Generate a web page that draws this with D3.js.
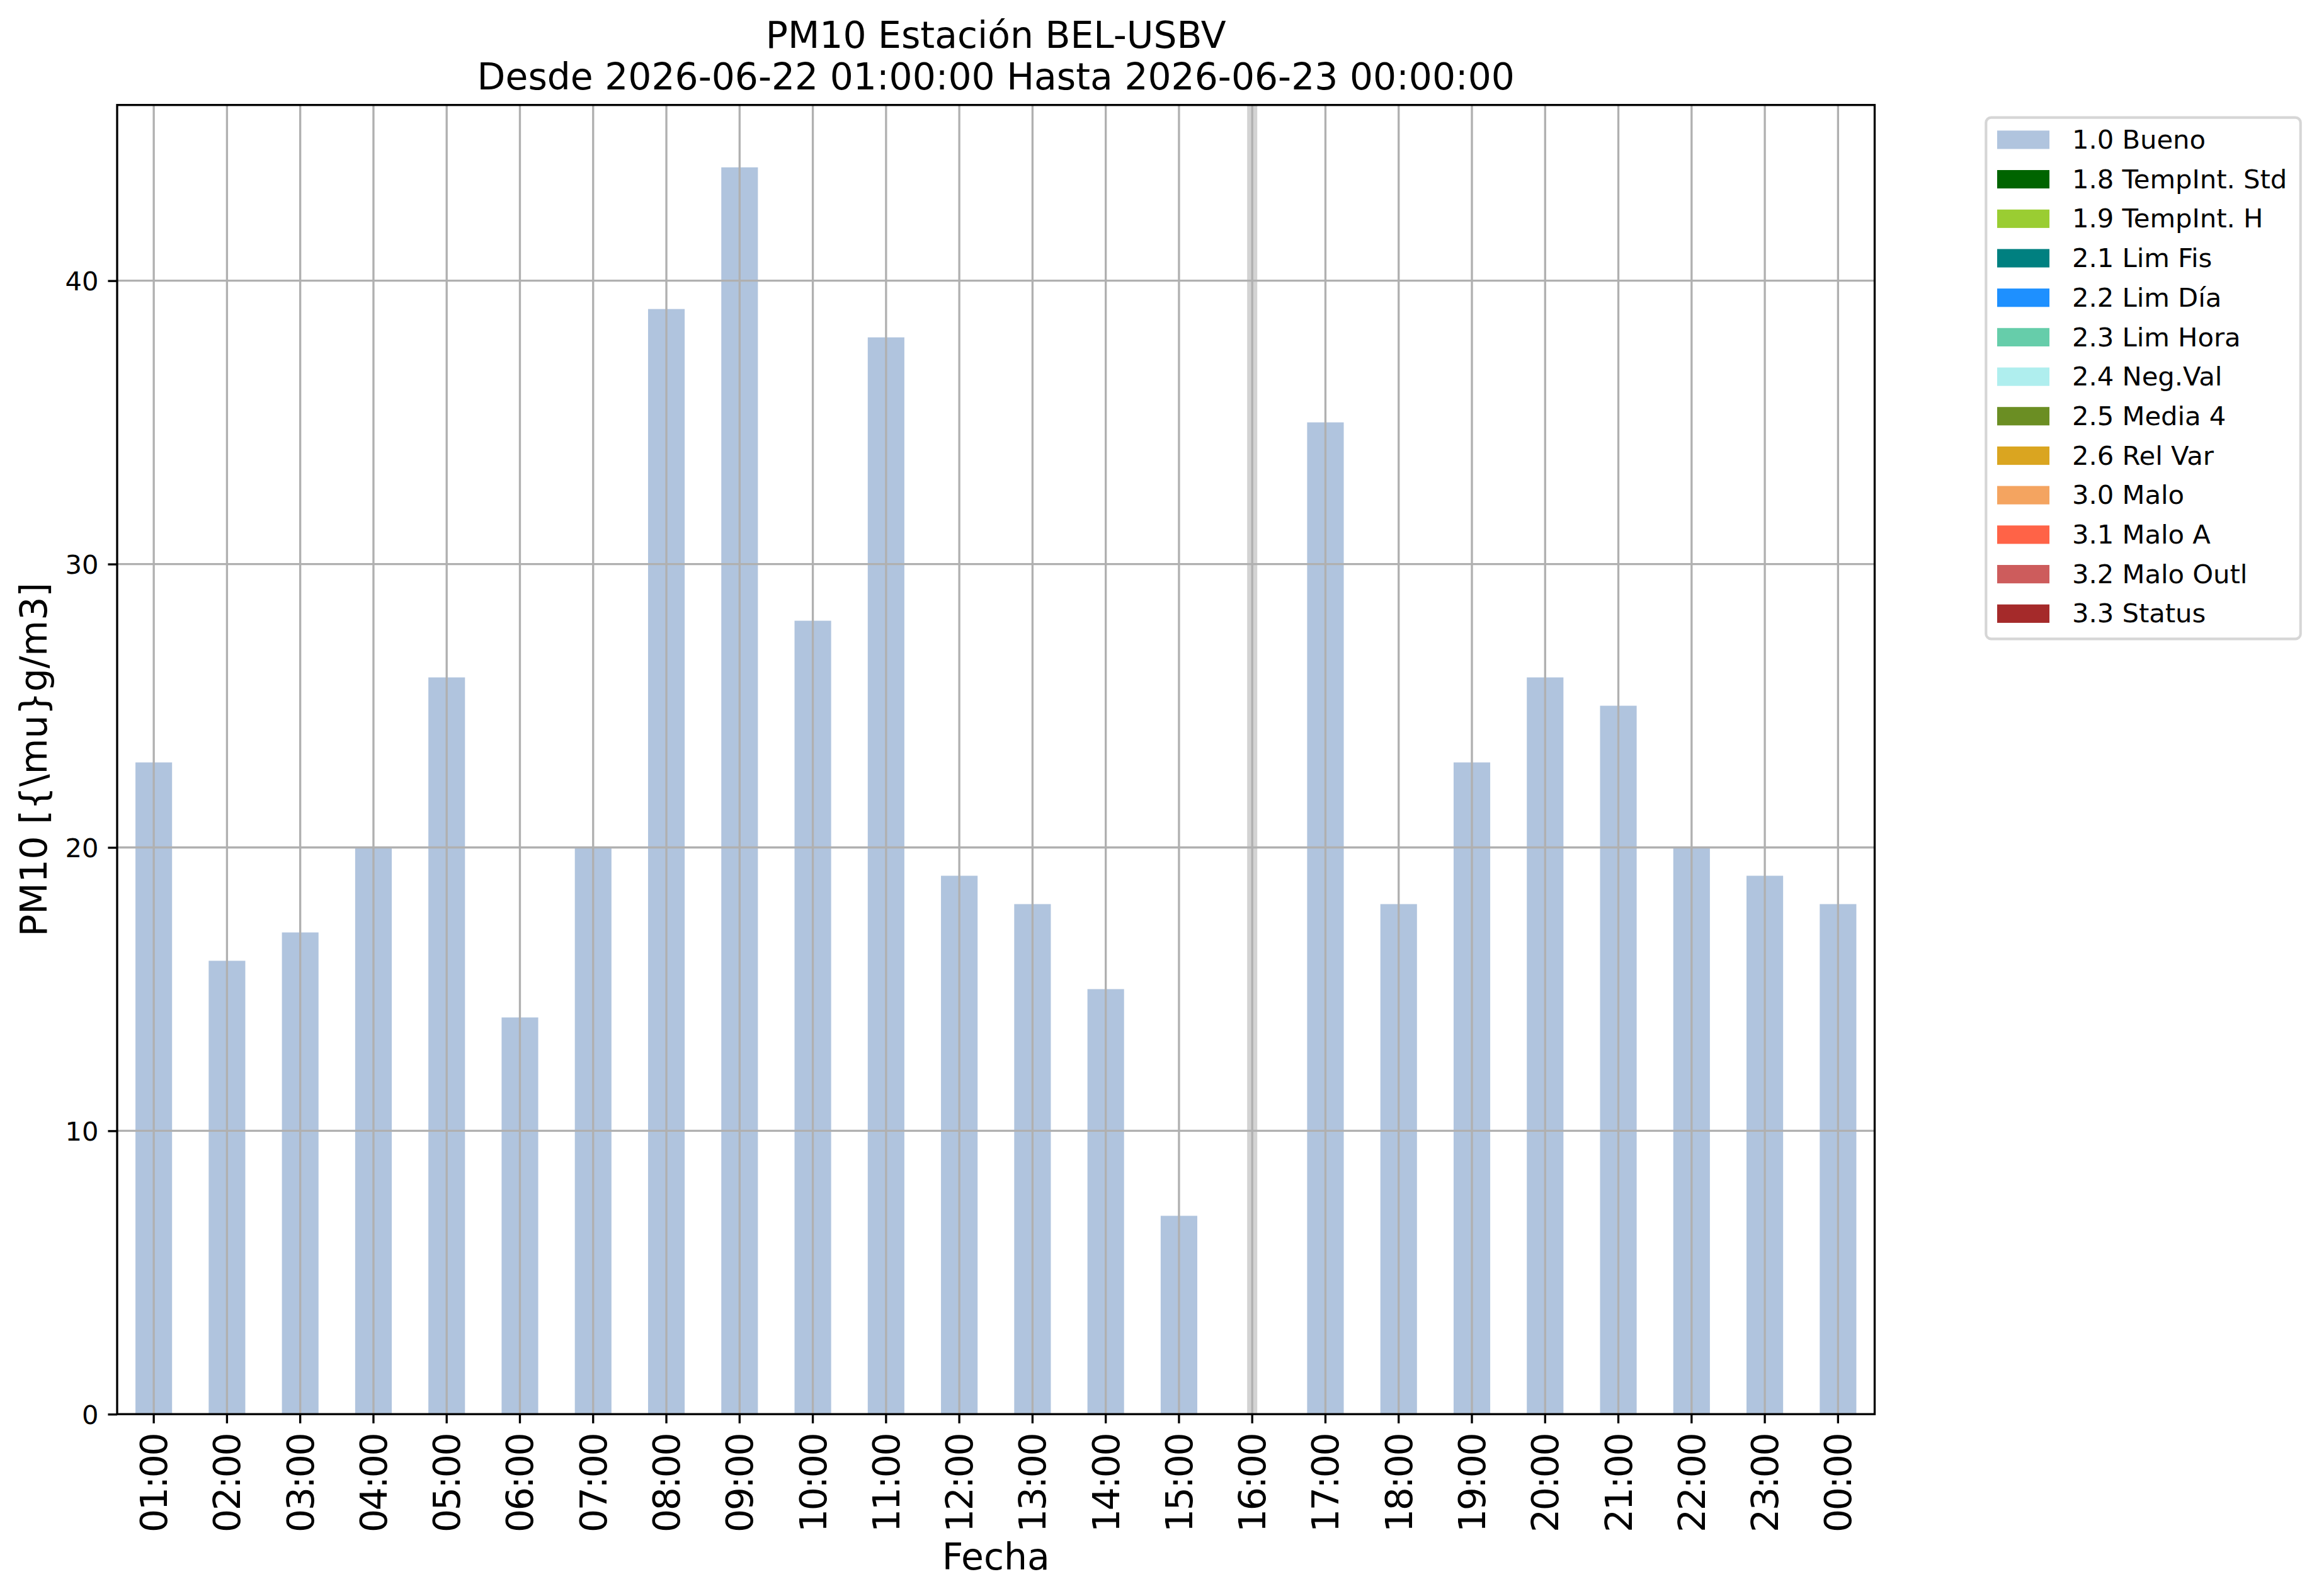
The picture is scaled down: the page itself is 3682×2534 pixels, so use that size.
<!DOCTYPE html>
<html>
<head>
<meta charset="utf-8">
<script src="https://cdn.jsdelivr.net/npm/d3@7"></script>
<style>
  html, body { margin: 0; padding: 0; background: #fff; }
  svg { display: block; font-family: "DejaVu Sans", sans-serif; }
</style>
</head>
<body>
<script>
// ---- Data ----
const hours = ["01:00","02:00","03:00","04:00","05:00","06:00","07:00","08:00","09:00","10:00","11:00","12:00",
               "13:00","14:00","15:00","16:00","17:00","18:00","19:00","20:00","21:00","22:00","23:00","00:00"];
const pm10 = [23,16,17,20,26,14,20,39,44,28,38,19,18,15,7,null,35,18,23,26,25,20,19,18];
const missingHours = ["16:00"];
const yTicks = [0,10,20,30,40];
const flagLabels = ["1.0 Bueno","1.8 TempInt. Std","1.9 TempInt. H","2.1 Lim Fis","2.2 Lim Día","2.3 Lim Hora",
                    "2.4 Neg.Val","2.5 Media 4","2.6 Rel Var","3.0 Malo","3.1 Malo A","3.2 Malo Outl","3.3 Status"];
const flagColors = ["#b0c4de","#006400","#9acd32","#008080","#1e90ff","#66cdaa",
                    "#afeeee","#6b8e23","#daa520","#f4a460","#ff6347","#cd5c5c","#a52a2a"];
const titleLines = ["PM10 Estación BEL-USBV","Desde 2026-06-22 01:00:00 Hasta 2026-06-23 00:00:00"];
const yLabel = "PM10 [{\\mu}g/m3]";
const xLabel = "Fecha";

// ---- Layout ----
const W = 3682, H = 2534;
const L = 186, R = 2976.5, T = 166.7, B = 2245.3;
const pt = 300/72;
const fs10 = 10*pt, fs14 = 14*pt;

const svg = d3.select("body").append("svg").attr("width", W).attr("height", H);
svg.append("rect").attr("width", W).attr("height", H).attr("fill", "#fff");

const x = d3.scaleBand().domain(hours).range([L, R]).paddingInner(0.5).paddingOuter(0.25);
const y = d3.scaleLinear().domain([0, d3.max(pm10) * 1.05]).range([B, T]);
const cx = h => x(h) + x.bandwidth() / 2;

// missing-data band
svg.append("g").selectAll("rect").data(missingHours).join("rect")
  .attr("x", d => cx(d) - x.step() * 0.069)
  .attr("width", x.step() * 0.138)
  .attr("y", T).attr("height", B - T)
  .attr("fill", "#d3d3d3");

// bars
const barData = hours.map((h, i) => ({h, v: pm10[i]})).filter(d => d.v != null);
svg.append("g").selectAll("rect").data(barData).join("rect")
  .attr("x", d => x(d.h)).attr("width", x.bandwidth())
  .attr("y", d => y(d.v)).attr("height", d => y(0) - y(d.v))
  .attr("fill", flagColors[0]);

// grid
const grid = svg.append("g").attr("stroke", "#b0b0b0").attr("stroke-width", 0.8*pt);
grid.selectAll("line.v").data(hours).join("line").attr("class","v")
  .attr("x1", cx).attr("x2", cx).attr("y1", T).attr("y2", B);
grid.selectAll("line.h").data(yTicks).join("line").attr("class","h")
  .attr("x1", L).attr("x2", R).attr("y1", d => y(d)).attr("y2", d => y(d));

// axes
const xAxis = svg.append("g").attr("transform", `translate(0,${B})`)
  .call(d3.axisBottom(x).tickSize(3.5*pt).tickSizeOuter(0));
xAxis.select(".domain").remove();
xAxis.selectAll(".tick line").attr("stroke", "#000").attr("stroke-width", 0.8*pt);
xAxis.selectAll(".tick text")
  .attr("font-family", "DejaVu Sans").attr("font-size", fs14).attr("fill", "#000")
  .attr("letter-spacing", "-2.4px")
  .attr("transform", "rotate(-90)")
  .attr("x", -31.5).attr("y", 0).attr("dy", "0.36em")
  .style("text-anchor", "end");

const yAxis = svg.append("g").attr("transform", `translate(${L},0)`)
  .call(d3.axisLeft(y).tickValues(yTicks).tickSize(3.5*pt).tickPadding(15).tickSizeOuter(0));
yAxis.select(".domain").remove();
yAxis.selectAll(".tick line").attr("stroke", "#000").attr("stroke-width", 0.8*pt);
yAxis.selectAll(".tick text")
  .attr("font-family", "DejaVu Sans").attr("font-size", fs10).attr("fill", "#000")
  .attr("dy", "0.36em");

// spines
svg.append("rect").attr("x", L).attr("y", T).attr("width", R - L).attr("height", B - T)
  .attr("fill", "none").attr("stroke", "#000").attr("stroke-width", 0.8*pt);

// title
const midX = (L + R) / 2;
svg.append("g").selectAll("text").data(titleLines).join("text")
  .attr("x", midX).attr("y", (d, i) => 76 + i * 65.7)
  .attr("text-anchor", "middle").attr("font-size", fs14).attr("fill", "#000")
  .text(d => d);

// axis labels
svg.append("text").attr("x", midX).attr("y", 2491.7).attr("text-anchor", "middle")
  .attr("font-size", fs14).text(xLabel);
svg.append("text").attr("transform", `translate(74,${(T + B) / 2}) rotate(-90)`)
  .attr("text-anchor", "middle").attr("font-size", fs14).text(yLabel);

// legend
const lg = svg.append("g");
const rowH = 62.7;
lg.append("rect").attr("x", 3153.3).attr("y", 186.7).attr("width", 3652.7 - 3153.3)
  .attr("height", 16.7*2 + 13*41.9 + 12*20.8).attr("rx", 8).attr("ry", 8)
  .attr("fill", "#fff").attr("fill-opacity", 0.8)
  .attr("stroke", "#d6d6d6").attr("stroke-width", 1*pt);
const items = lg.selectAll("g.item").data(flagLabels).join("g").attr("class", "item")
  .attr("transform", (d, i) => `translate(0,${i * rowH})`);
items.append("rect").attr("x", 3171).attr("y", 207.3).attr("width", 83).attr("height", 29.2)
  .attr("fill", (d, i) => flagColors[i]);
items.append("text").attr("x", 3290).attr("y", 236).attr("font-size", fs10).attr("fill", "#000")
  .text(d => d);
</script>
</body>
</html>
